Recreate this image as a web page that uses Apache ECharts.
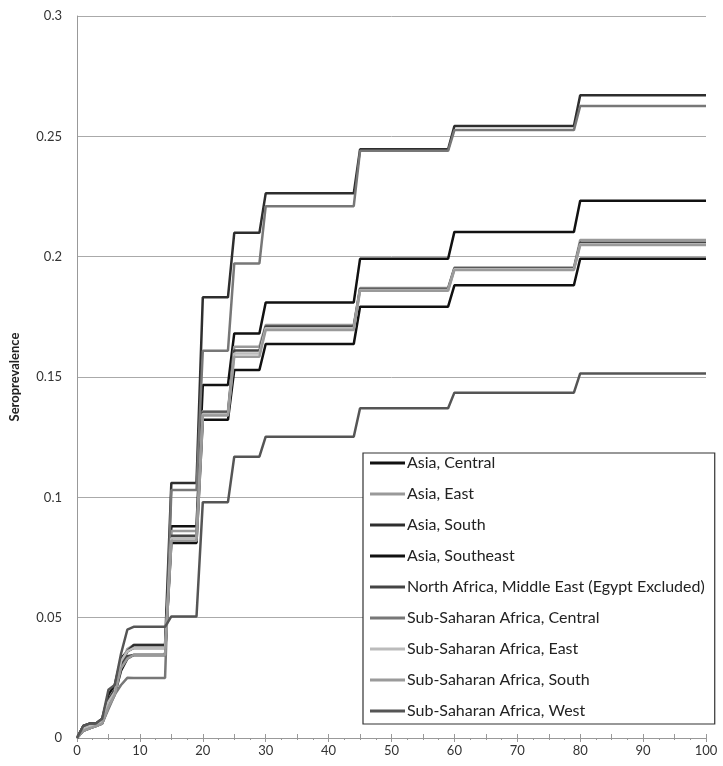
<!DOCTYPE html>
<html>
<head>
<meta charset="utf-8">
<script src="https://cdn.jsdelivr.net/npm/echarts@6/dist/echarts.min.js"></script>
<style>
  html, body { margin: 0; padding: 0; background: #fff; }
  #chart { width: 723px; height: 766px; }
</style>
</head>
<body>
<div id="chart"></div>
<script>
// ages where the curves change (vertices of the step lines)
const ages = [0, 1, 2, 3, 4, 5, 6, 7, 8, 9, 14, 15, 19, 20, 24, 25, 29, 30, 44, 45, 59, 60, 79, 80, 100];

const asiaCentral   = [0, 0.005, 0.006, 0.006, 0.008, 0.018, 0.022, 0.033, 0.036, 0.0374, 0.0374, 0.088, 0.088, 0.1467, 0.1467, 0.1681, 0.1681, 0.1810, 0.1810, 0.1991, 0.1991, 0.2103, 0.2103, 0.2232, 0.2232];
const asiaEast      = [0, 0.004, 0.005, 0.005, 0.007, 0.014, 0.019, 0.030, 0.037, 0.0386, 0.0386, 0.086, 0.086, 0.1358, 0.1358, 0.1626, 0.1626, 0.1716, 0.1716, 0.1870, 0.1870, 0.1955, 0.1955, 0.2069, 0.2069];
const asiaSouth     = [0, 0.004, 0.005, 0.005, 0.007, 0.015, 0.020, 0.030, 0.036, 0.0386, 0.0386, 0.106, 0.106, 0.1831, 0.1831, 0.2099, 0.2099, 0.2263, 0.2263, 0.2446, 0.2446, 0.2543, 0.2543, 0.2671, 0.2671];
const asiaSoutheast = [0, 0.003, 0.004, 0.005, 0.006, 0.013, 0.018, 0.028, 0.033, 0.0345, 0.0345, 0.081, 0.081, 0.1322, 0.1322, 0.1529, 0.1529, 0.1637, 0.1637, 0.1792, 0.1792, 0.1881, 0.1881, 0.1991, 0.1991];
const northAfrica   = [0, 0.005, 0.006, 0.006, 0.007, 0.016, 0.020, 0.031, 0.034, 0.0345, 0.0345, 0.084, 0.084, 0.1352, 0.1352, 0.1610, 0.1610, 0.1710, 0.1710, 0.1866, 0.1866, 0.1951, 0.1951, 0.2058, 0.2058];
const ssaCentral    = [0, 0.003, 0.004, 0.005, 0.006, 0.012, 0.018, 0.022, 0.025, 0.0249, 0.0249, 0.103, 0.103, 0.1609, 0.1609, 0.1972, 0.1972, 0.2210, 0.2210, 0.2440, 0.2440, 0.2526, 0.2526, 0.2626, 0.2626];
const ssaEast       = [0, 0.004, 0.005, 0.005, 0.007, 0.015, 0.019, 0.032, 0.036, 0.0374, 0.0374, 0.083, 0.083, 0.1346, 0.1346, 0.1598, 0.1598, 0.1703, 0.1703, 0.1862, 0.1862, 0.1948, 0.1948, 0.2052, 0.2052];
const ssaSouth      = [0, 0.003, 0.004, 0.005, 0.006, 0.013, 0.018, 0.029, 0.033, 0.0345, 0.0345, 0.082, 0.082, 0.1340, 0.1340, 0.1584, 0.1584, 0.1695, 0.1695, 0.1858, 0.1858, 0.1945, 0.1945, 0.2048, 0.2048];
const ssaWest       = [0, 0.005, 0.006, 0.006, 0.008, 0.020, 0.022, 0.035, 0.045, 0.0462, 0.0462, 0.0505, 0.0505, 0.098, 0.098, 0.1169, 0.1169, 0.1252, 0.1252, 0.137, 0.137, 0.1435, 0.1435, 0.1515, 0.1515];

const seriesNames = [
  "Asia, Central",
  "Asia, East",
  "Asia, South",
  "Asia, Southeast",
  "North Africa, Middle East (Egypt Excluded)",
  "Sub-Saharan Africa, Central",
  "Sub-Saharan Africa, East",
  "Sub-Saharan Africa, South",
  "Sub-Saharan Africa, West",
];
const seriesValues = [asiaCentral, asiaEast, asiaSouth, asiaSoutheast, northAfrica, ssaCentral, ssaEast, ssaSouth, ssaWest];
const seriesColors = ["#111", "#999", "#2e2e2e", "#111", "#444", "#777", "#bbb", "#9a9a9a", "#555"];

const yTicks = [0, 0.05, 0.1, 0.15, 0.2, 0.25, 0.3];

var chart = echarts.init(document.getElementById("chart"), null, { renderer: "canvas" });

var series = [];
for (let i = 0; i < seriesNames.length; i++) {
  series.push({
    name: seriesNames[i],
    type: "line",
    xAxisIndex: 0,
    data: ages.map((a, j) => [a, seriesValues[i][j]]),
    showSymbol: false,
    symbol: "none",
    animation: false,
    lineStyle: { color: seriesColors[i], width: 2.5 },
    itemStyle: { color: seriesColors[i] },
  });
}

var font = "Lato, 'Open Sans', sans-serif";

var option = {
  backgroundColor: "#fff",
  grid: { left: 75, right: 17, top: 16, bottom: 28 },
  legend: {
    data: seriesNames,
    orient: "vertical",
    left: 363,
    top: 453,
    padding: [2, 10, 5, 7],
    itemGap: 15,
    itemWidth: 35,
    itemHeight: 3,
    icon: "rect",
    borderColor: "#333",
    borderWidth: 1.2,
    backgroundColor: "#fff",
    textStyle: { fontFamily: font, fontSize: 16, color: "#222", lineHeight: 14, padding: [0, 0, 0, -3] },
  },
  xAxis: [
    {
      type: "value",
      min: 0,
      max: 100,
      interval: 10,
      axisLine: { lineStyle: { color: "#999", width: 1 } },
      axisTick: { show: true, length: 4, lineStyle: { color: "#999" } },
      minorTick: { show: true, splitNumber: 4, length: 2, lineStyle: { color: "#999" } },
      splitLine: { show: false },
      axisLabel: { fontFamily: font, fontSize: 13, color: "#333", margin: 6 },
    },
    {
      type: "value",
      position: "bottom",
      min: 0,
      max: 100,
      interval: 5,
      axisLine: { show: false },
      axisTick: { show: true, inside: true, length: 4, lineStyle: { color: "#999" } },
      splitLine: { show: false },
      axisLabel: { show: false },
    },
  ],
  yAxis: {
    type: "value",
    min: 0,
    max: 0.3,
    interval: 0.05,
    name: "Seroprevalence",
    nameLocation: "middle",
    nameGap: 56,
    nameTextStyle: { fontFamily: font, fontSize: 13, fontWeight: "bold", color: "#222" },
    axisLine: { show: true, lineStyle: { color: "#999", width: 1 } },
    axisTick: { show: false },
    splitLine: { lineStyle: { color: "#aaa", width: 1 } },
    axisLabel: {
      fontFamily: font,
      fontSize: 13,
      color: "#333",
      margin: 15,
      formatter: function (v) {
        let hit = yTicks.find((t) => Math.abs(t - v) < 1e-9);
        return hit === undefined ? "" : String(hit);
      },
    },
  },
  series: series,
};

chart.setOption(option);
</script>
</body>
</html>
